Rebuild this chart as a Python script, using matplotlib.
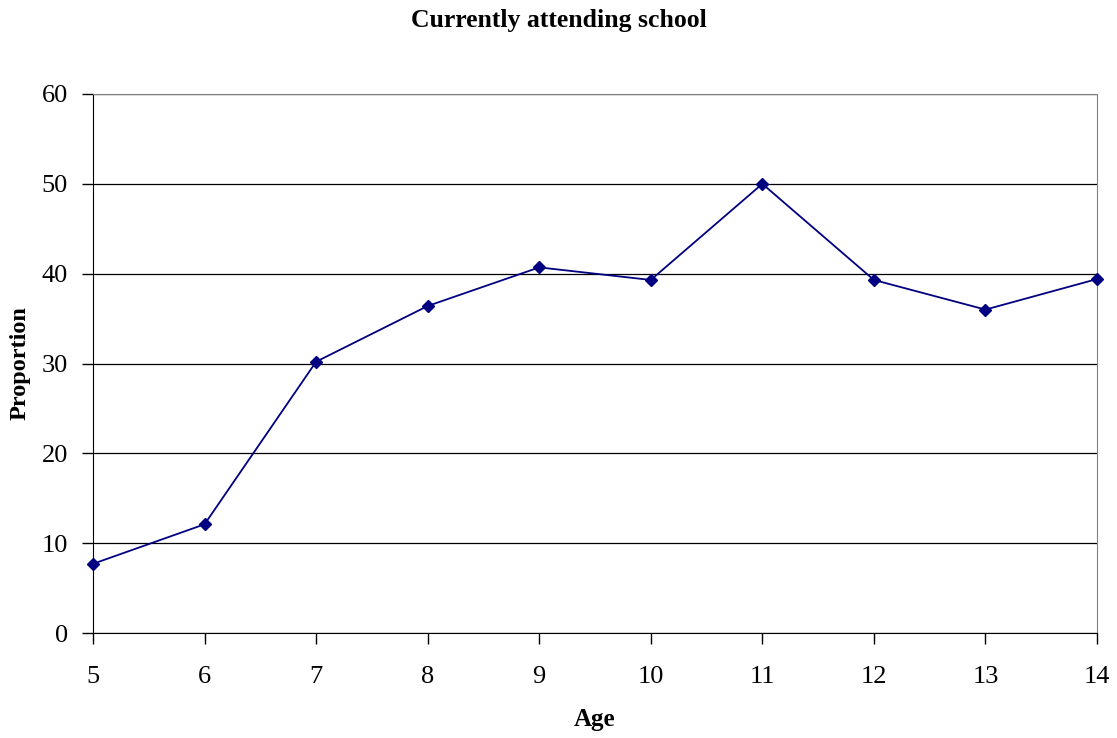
import matplotlib
matplotlib.use("Agg")
import matplotlib.pyplot as plt

ages = [5, 6, 7, 8, 9, 10, 11, 12, 13, 14]
proportion = [7.7, 12.1, 30.2, 36.4, 40.7, 39.3, 50.0, 39.3, 36.0, 39.4]
y_ticks = [0, 10, 20, 30, 40, 50, 60]

plt.rcParams["font.family"] = ["Liberation Serif", "DejaVu Serif"]

fig = plt.figure(figsize=(11.17, 7.38), dpi=100)
ax = fig.add_axes([93 / 1117, 1 - 633 / 738, (1097 - 93) / 1117, (633 - 94) / 738])

ax.plot(ages, proportion, color="#000080", lw=1.3, marker="D", ms=6,
        markerfacecolor="#000080", markeredgecolor="#000080", clip_on=False, zorder=3)

ax.set_xlim(5, 14)
ax.set_ylim(0, 60)
ax.set_xticks(ages)
ax.set_yticks(y_ticks)
ax.yaxis.grid(True, color="black", lw=0.9)
ax.set_axisbelow(True)

for side in ("top", "right"):
    ax.spines[side].set_color("#808080")
for side in ("left", "bottom"):
    ax.spines[side].set_color("black")

ax.tick_params(axis="x", direction="out", length=8, width=1, pad=16, labelsize=19)
ax.tick_params(axis="y", direction="out", length=8, width=1, pad=10, labelsize=19)

ax.set_xlabel("Age", fontsize=18, fontweight="bold", labelpad=14)
ax.set_ylabel("Proportion", fontsize=17.5, fontweight="bold", labelpad=8)
fig.text(0.5, 1 - 21 / 738, "Currently attending school", ha="center", va="center",
         fontsize=18.5, fontweight="bold")

fig.savefig("out.png", dpi=100)
